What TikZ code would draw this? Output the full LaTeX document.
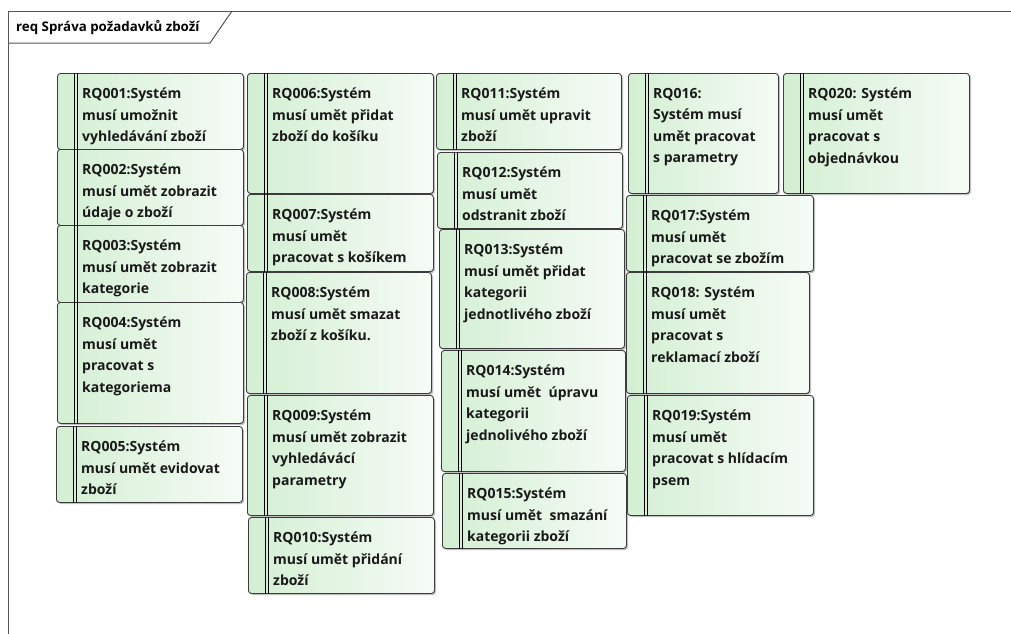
\documentclass[tikz,border=0pt]{standalone}
\usepackage{fontspec}
\setmainfont{Open Sans}
\definecolor{framegray}{HTML}{555555}
\definecolor{boxline}{HTML}{3C3C3C}
\definecolor{greenL}{HTML}{D3EFD3}
\definecolor{greenR}{HTML}{F6FBF6}
\tikzset{
  reqbox/.style={draw=boxline, line width=0.9pt, rounded corners=3pt,
    left color=greenL, right color=greenR, inner sep=0pt},
  boxshadow/.style={fill=black, opacity=0.25, rounded corners=3pt},
  splitline/.style={draw=black, line width=0.8pt},
  reqtext/.style={inner sep=0pt, align=left, text=black!90,
    font=\bfseries\fontsize{14}{21.5}\selectfont},
  frameline/.style={draw=framegray, line width=1pt},
}
% one requirement: name, left, top, right, bottom, text
\newcommand\reqitem[6]{%
  \fill[boxshadow] (#2+2,#3+2) rectangle (#4+2,#5+2);
  \node[reqbox, anchor=north west, minimum width={(#4-#2)*1pt},
        minimum height={(#5-#3)*1pt}] (#1) at (#2,#3) {};
  \draw[splitline] ([xshift=17pt]#1.north west) -- ([xshift=17pt]#1.south west);
  \draw[splitline] ([xshift=20pt]#1.north west) -- ([xshift=20pt]#1.south west);
  \node[reqtext, anchor=north west] (#1-t) at ([xshift=25pt,yshift=-15pt]#1.north west) {#6};
}
\begin{document}
\begin{tikzpicture}[x={(1pt,0)}, y={(0,-1pt)}]
\useasboundingbox (0,0) rectangle (1011,633);
\clip (0,0) rectangle (1011,633);
\fill[white] (0,0) rectangle (1011,633);
% diagram frame and its name tab
\draw[frameline] (8,640) -- (8,11) -- (1020,11);
\draw[frameline] (8,43) -- (210,43) -- (232,11);
\node[anchor=west, inner sep=0pt, font=\bfseries\fontsize{13.3}{16}\selectfont] (title) at (16,28) {req Správa požadavků zboží};
% column 1
\reqitem{rq001}{57}{73}{243}{149}{RQ001:Systém\\musí umožnit\\vyhledávání zboží}
\reqitem{rq002}{57}{149}{243}{225}{RQ002:Systém\\musí umět zobrazit\\údaje o zboží}
\reqitem{rq003}{57}{225}{243}{302}{RQ003:Systém\\musí umět zobrazit\\kategorie}
\reqitem{rq004}{57}{302}{243}{423}{RQ004:Systém\\musí umět\\pracovat s\\kategoriema}
\reqitem{rq005}{56}{426}{242}{502}{RQ005:Systém\\musí umět evidovat\\zboží}
% column 2
\reqitem{rq006}{247}{73}{433}{193}{RQ006:Systém\\musí umět přidat\\zboží do košíku}
\reqitem{rq007}{247}{194}{433}{271}{RQ007:Systém\\musí umět\\pracovat s košíkem}
\reqitem{rq008}{246}{272}{431}{393}{RQ008:Systém\\musí umět smazat\\zboží z košíku.}
\reqitem{rq009}{247}{395}{433}{515}{RQ009:Systém\\musí umět zobrazit\\vyhledávácí\\parametry}
\reqitem{rq010}{248}{517}{434}{593}{RQ010:Systém\\musí umět přidání\\zboží}
% column 3
\reqitem{rq011}{436}{73}{621}{149}{RQ011:Systém\\musí umět upravit\\zboží}
\reqitem{rq012}{437}{152}{622}{228}{RQ012:Systém\\musí umět\\odstranit zboží}
\reqitem{rq013}{439}{229}{624}{348}{RQ013:Systém\\musí umět přidat\\kategorii\\jednotlivého zboží}
\reqitem{rq014}{441}{350}{625}{471}{RQ014:Systém\\musí umět\ \ úpravu\\kategorii\\jednolivého zboží}
\reqitem{rq015}{442}{473}{626}{548}{RQ015:Systém\\musí umět\ \ smazání\\kategorii zboží}
% column 4
\reqitem{rq016}{628}{73}{778}{193}{RQ016:\\Systém musí\\umět pracovat\\s parametry}
\reqitem{rq020}{783}{73}{969}{193}{RQ020: Systém\\musí umět\\pracovat s\\objednávkou}
\reqitem{rq017}{626}{195}{813}{271}{RQ017:Systém\\musí umět\\pracovat se zbožím}
\reqitem{rq018}{626}{272}{809}{393}{RQ018: Systém\\musí umět\\pracovat s\\reklamací zboží}
\reqitem{rq019}{627}{395}{813}{515}{RQ019:Systém\\musí umět\\pracovat s hlídacím\\psem}
\end{tikzpicture}
\end{document}
